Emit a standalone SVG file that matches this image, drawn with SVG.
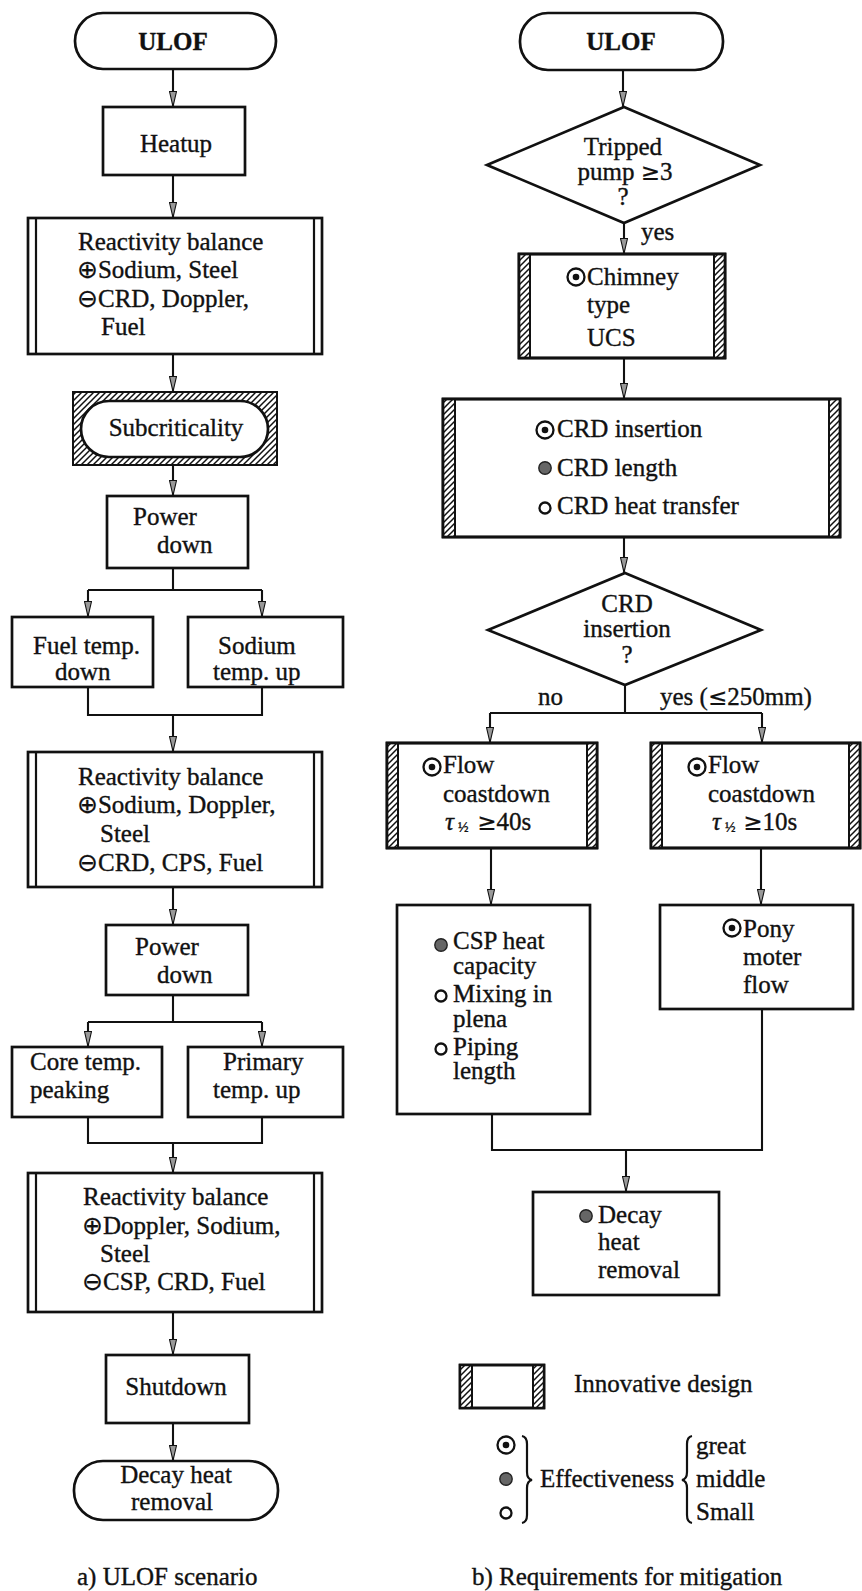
<svg xmlns="http://www.w3.org/2000/svg" width="862" height="1591" viewBox="0 0 862 1591">
<style>
.t{font-family:'Liberation Serif','DejaVu Serif',serif;font-size:25px;fill:#111;stroke:#111;stroke-width:0.35px}
.c{text-anchor:middle}
.sym{font-family:'DejaVu Sans',sans-serif;font-size:25px;stroke-width:0.2px}
.ge{font-family:'DejaVu Sans',sans-serif;font-size:23px;stroke-width:0.2px}
.box{fill:#fff;stroke:#111;stroke-width:2.7}
.hat{fill:url(#hatch);stroke:#111;stroke-width:2}
.ln{fill:none;stroke:#111;stroke-width:2.2}
.con{fill:none;stroke:#111;stroke-width:2.1}
</style>
<defs>
<pattern id="hatch" patternUnits="userSpaceOnUse" width="6" height="6">
<rect width="6" height="6" fill="#fff"/>
<path d="M-1,7 L7,-1 M-4,4 L4,-4 M2,10 L10,2" stroke="#111" stroke-width="1.5"/>
</pattern>
<marker id="arr" viewBox="0 0 16 8" refX="16" refY="4" markerWidth="16" markerHeight="8" markerUnits="userSpaceOnUse" orient="auto">
<path d="M0.5,0.5 L15.5,4 L0.5,7.5 Z" fill="#999" stroke="#111" stroke-width="1.1"/>
</marker>
<symbol id="great" viewBox="-11 -11 22 22" overflow="visible"><circle r="8.5" fill="#fff" stroke="#111" stroke-width="2.3"/><circle r="3.3" fill="#111"/></symbol>
<symbol id="middle" viewBox="-11 -11 22 22" overflow="visible"><circle r="6.2" fill="#666" stroke="#222" stroke-width="1.4"/></symbol>
<symbol id="small" viewBox="-11 -11 22 22" overflow="visible"><circle r="5.5" fill="#fff" stroke="#111" stroke-width="2.3"/></symbol>
</defs>
<rect width="862" height="1591" fill="#fff"/>

<g id="connectors" class="con">
<line x1="173" y1="70" x2="173" y2="107" marker-end="url(#arr)"/>
<line x1="173" y1="175" x2="173" y2="218" marker-end="url(#arr)"/>
<line x1="173" y1="354" x2="173" y2="392" marker-end="url(#arr)"/>
<line x1="173" y1="465" x2="173" y2="496" marker-end="url(#arr)"/>
<path d="M173,568 V590 M88,590 H262"/>
<line x1="88" y1="590" x2="88" y2="617" marker-end="url(#arr)"/>
<line x1="262" y1="590" x2="262" y2="617" marker-end="url(#arr)"/>
<path d="M88,687 V715 H262 V687"/>
<line x1="173" y1="715" x2="173" y2="752" marker-end="url(#arr)"/>
<line x1="173" y1="887" x2="173" y2="925" marker-end="url(#arr)"/>
<path d="M173,995 V1022 M88,1022 H262"/>
<line x1="88" y1="1022" x2="88" y2="1047" marker-end="url(#arr)"/>
<line x1="262" y1="1022" x2="262" y2="1047" marker-end="url(#arr)"/>
<path d="M88,1117 V1143 H262 V1117"/>
<line x1="173" y1="1143" x2="173" y2="1173" marker-end="url(#arr)"/>
<line x1="173" y1="1312" x2="173" y2="1355" marker-end="url(#arr)"/>
<line x1="173" y1="1423" x2="173" y2="1461" marker-end="url(#arr)"/>

<line x1="623" y1="70" x2="623" y2="107" marker-end="url(#arr)"/>
<line x1="624" y1="223" x2="624" y2="254" marker-end="url(#arr)"/>
<line x1="624" y1="358" x2="624" y2="399" marker-end="url(#arr)"/>
<line x1="624" y1="537" x2="624" y2="573" marker-end="url(#arr)"/>
<path d="M625,685 V713 M490,713 H762"/>
<line x1="490" y1="713" x2="490" y2="743" marker-end="url(#arr)"/>
<line x1="762" y1="713" x2="762" y2="743" marker-end="url(#arr)"/>
<line x1="491" y1="848" x2="491" y2="905" marker-end="url(#arr)"/>
<line x1="761" y1="848" x2="761" y2="905" marker-end="url(#arr)"/>
<path d="M492,1114 V1150 H762 V1009"/>
<line x1="626" y1="1150" x2="626" y2="1192" marker-end="url(#arr)"/>
</g>

<g id="ulof-a">
<rect class="box" x="75" y="13" width="201" height="56" rx="28"/>
<text class="t c" x="173" y="50" font-weight="bold">ULOF</text>
</g>
<g id="heatup">
<rect class="box" x="103" y="107" width="142" height="68"/>
<text class="t c" x="176" y="152">Heatup</text>
</g>
<g id="rb1">
<rect class="box" x="28" y="218" width="294" height="136"/>
<path class="ln" d="M36,218 V354 M314,218 V354"/>
<text class="t" x="78" y="250">Reactivity balance</text>
<text class="t" x="77" y="278"><tspan class="sym">⊕</tspan>Sodium, Steel</text>
<text class="t" x="77" y="307"><tspan class="sym">⊖</tspan>CRD, Doppler,</text>
<text class="t" x="101" y="335">Fuel</text>
</g>
<g id="subcriticality">
<rect class="hat" x="73" y="392" width="204" height="73" stroke-width="2.7"/>
<rect class="box" x="81" y="401" width="187" height="56" rx="28" stroke-width="2.2"/>
<text class="t c" x="176" y="436">Subcriticality</text>
</g>
<g id="powerdown1">
<rect class="box" x="107" y="496" width="141" height="72"/>
<text class="t" x="133" y="525">Power</text>
<text class="t" x="157" y="553">down</text>
</g>
<g id="fueltemp">
<rect class="box" x="12" y="617" width="141" height="70"/>
<text class="t" x="33" y="654">Fuel temp.</text>
<text class="t" x="55" y="680">down</text>
</g>
<g id="sodiumtemp">
<rect class="box" x="188" y="617" width="155" height="70"/>
<text class="t" x="218" y="654">Sodium</text>
<text class="t" x="213" y="680">temp. up</text>
</g>
<g id="rb2">
<rect class="box" x="28" y="752" width="294" height="135"/>
<path class="ln" d="M36,752 V887 M314,752 V887"/>
<text class="t" x="78" y="785">Reactivity balance</text>
<text class="t" x="77" y="813"><tspan class="sym">⊕</tspan>Sodium, Doppler,</text>
<text class="t" x="100" y="842">Steel</text>
<text class="t" x="77" y="871"><tspan class="sym">⊖</tspan>CRD, CPS, Fuel</text>
</g>
<g id="powerdown2">
<rect class="box" x="106" y="925" width="142" height="70"/>
<text class="t" x="135" y="955">Power</text>
<text class="t" x="157" y="983">down</text>
</g>
<g id="coretemp">
<rect class="box" x="12" y="1047" width="150" height="70"/>
<text class="t" x="30" y="1070">Core temp.</text>
<text class="t" x="30" y="1098">peaking</text>
</g>
<g id="primarytemp">
<rect class="box" x="188" y="1047" width="155" height="70"/>
<text class="t" x="223" y="1070">Primary</text>
<text class="t" x="213" y="1098">temp. up</text>
</g>
<g id="rb3">
<rect class="box" x="28" y="1173" width="294" height="139"/>
<path class="ln" d="M36,1173 V1312 M314,1173 V1312"/>
<text class="t" x="83" y="1205">Reactivity balance</text>
<text class="t" x="82" y="1234"><tspan class="sym">⊕</tspan>Doppler, Sodium,</text>
<text class="t" x="100" y="1262">Steel</text>
<text class="t" x="82" y="1290"><tspan class="sym">⊖</tspan>CSP, CRD, Fuel</text>
</g>
<g id="shutdown">
<rect class="box" x="106" y="1355" width="143" height="68"/>
<text class="t c" x="176" y="1395">Shutdown</text>
</g>
<g id="decay-a">
<rect class="box" x="74" y="1461" width="204" height="59" rx="29"/>
<text class="t c" x="176" y="1483">Decay heat</text>
<text class="t c" x="172" y="1510">removal</text>
</g>
<g id="caption-a">
<text class="t" x="77" y="1585">a) ULOF scenario</text>
</g>

<g id="ulof-b">
<rect class="box" x="520" y="13" width="203" height="57" rx="28"/>
<text class="t c" x="621" y="50" font-weight="bold">ULOF</text>
</g>
<g id="tripped">
<polygon class="box" points="624,107 760,165 624,223 487,165"/>
<text class="t c" x="623" y="155">Tripped</text>
<text class="t c" x="625" y="180">pump <tspan class="ge">≥</tspan>3</text>
<text class="t c" x="623" y="205" font-size="19">?</text>
<text class="t" x="641" y="240">yes</text>
</g>
<g id="chimney">
<rect class="box" x="519" y="254" width="206" height="104"/>
<rect class="hat" x="519" y="254" width="11" height="104"/>
<rect class="hat" x="714" y="254" width="11" height="104"/>
<rect x="519" y="254" width="206" height="104" fill="none" stroke="#111" stroke-width="2.7"/>
<use href="#great" x="565" y="266" width="22" height="22"/>
<text class="t" x="587" y="285">Chimney</text>
<text class="t" x="587" y="313">type</text>
<text class="t" x="587" y="346">UCS</text>
</g>
<g id="crd">
<rect class="box" x="443" y="399" width="397" height="138"/>
<rect class="hat" x="443" y="399" width="12" height="138"/>
<rect class="hat" x="829" y="399" width="11" height="138"/>
<rect x="443" y="399" width="397" height="138" fill="none" stroke="#111" stroke-width="2.7"/>
<use href="#great" x="534" y="419" width="22" height="22"/>
<text class="t" x="557" y="437">CRD insertion</text>
<use href="#middle" x="534" y="457" width="22" height="22"/>
<text class="t" x="557" y="476">CRD length</text>
<use href="#small" x="534" y="497" width="22" height="22"/>
<text class="t" x="557" y="514">CRD heat transfer</text>
</g>
<g id="crd-insertion">
<polygon class="box" points="625,573 761,630 625,685 488,630"/>
<text class="t c" x="627" y="612">CRD</text>
<text class="t c" x="627" y="637">insertion</text>
<text class="t c" x="627" y="663" font-size="20">?</text>
<text class="t" x="538" y="705">no</text>
<text class="t" x="660" y="705">yes (<tspan class="ge">≤</tspan>250mm)</text>
</g>
<g id="flow1">
<rect class="box" x="387" y="743" width="210" height="105"/>
<rect class="hat" x="387" y="743" width="11" height="105"/>
<rect class="hat" x="587" y="743" width="10" height="105"/>
<rect x="387" y="743" width="210" height="105" fill="none" stroke="#111" stroke-width="2.7"/>
<use href="#great" x="421" y="756" width="22" height="22"/>
<text class="t" x="443" y="773">Flow</text>
<text class="t" x="443" y="802">coastdown</text>
<text class="t" x="445" y="830"><tspan font-style="italic">τ</tspan><tspan x="458" dy="2" font-size="14">½</tspan><tspan x="471" dy="-2"> <tspan class="ge">≥</tspan>40s</tspan></text>
</g>
<g id="flow2">
<rect class="box" x="651" y="743" width="209" height="105"/>
<rect class="hat" x="651" y="743" width="11" height="105"/>
<rect class="hat" x="849" y="743" width="11" height="105"/>
<rect x="651" y="743" width="209" height="105" fill="none" stroke="#111" stroke-width="2.7"/>
<use href="#great" x="686" y="756" width="22" height="22"/>
<text class="t" x="708" y="773">Flow</text>
<text class="t" x="708" y="802">coastdown</text>
<text class="t" x="712" y="830"><tspan font-style="italic">τ</tspan><tspan x="725" dy="2" font-size="14">½</tspan><tspan x="737" dy="-2"> <tspan class="ge">≥</tspan>10s</tspan></text>
</g>
<g id="csp">
<rect class="box" x="397" y="905" width="193" height="209"/>
<use href="#middle" x="430" y="934" width="22" height="22"/>
<text class="t" x="453" y="949">CSP heat</text>
<text class="t" x="453" y="974">capacity</text>
<use href="#small" x="430" y="985" width="22" height="22"/>
<text class="t" x="453" y="1002">Mixing in</text>
<text class="t" x="453" y="1027">plena</text>
<use href="#small" x="430" y="1038" width="22" height="22"/>
<text class="t" x="453" y="1055">Piping</text>
<text class="t" x="453" y="1079">length</text>
</g>
<g id="pony">
<rect class="box" x="660" y="905" width="193" height="104"/>
<use href="#great" x="721" y="917" width="22" height="22"/>
<text class="t" x="743" y="937">Pony</text>
<text class="t" x="743" y="965">moter</text>
<text class="t" x="743" y="993">flow</text>
</g>
<g id="decay-b">
<rect class="box" x="533" y="1192" width="186" height="103"/>
<use href="#middle" x="575" y="1205" width="22" height="22"/>
<text class="t" x="598" y="1223">Decay</text>
<text class="t" x="598" y="1250">heat</text>
<text class="t" x="598" y="1278">removal</text>
</g>
<g id="legend">
<rect class="box" x="460" y="1365" width="84" height="43"/>
<rect class="hat" x="460" y="1365" width="12" height="43"/>
<rect class="hat" x="533" y="1365" width="11" height="43"/>
<rect x="460" y="1365" width="84" height="43" fill="none" stroke="#111" stroke-width="2.4"/>
<text class="t" x="574" y="1392">Innovative design</text>
<use href="#great" x="495" y="1434" width="22" height="22"/>
<use href="#middle" x="495" y="1468" width="22" height="22"/>
<use href="#small" x="495" y="1502" width="22" height="22"/>
<path class="ln" stroke-width="1.8" d="M522,1436 Q527,1437 527,1444 V1472 Q527,1479 532,1480 Q527,1481 527,1488 V1515 Q527,1522 522,1523"/>
<text class="t" x="540" y="1487">Effectiveness</text>
<path class="ln" stroke-width="1.8" d="M692,1436 Q687,1437 687,1444 V1472 Q687,1479 682,1480 Q687,1481 687,1488 V1515 Q687,1522 692,1523"/>
<text class="t" x="696" y="1454">great</text>
<text class="t" x="696" y="1487">middle</text>
<text class="t" x="696" y="1520">Small</text>
</g>
<g id="caption-b">
<text class="t" x="472" y="1585">b) Requirements for mitigation</text>
</g>
</svg>
